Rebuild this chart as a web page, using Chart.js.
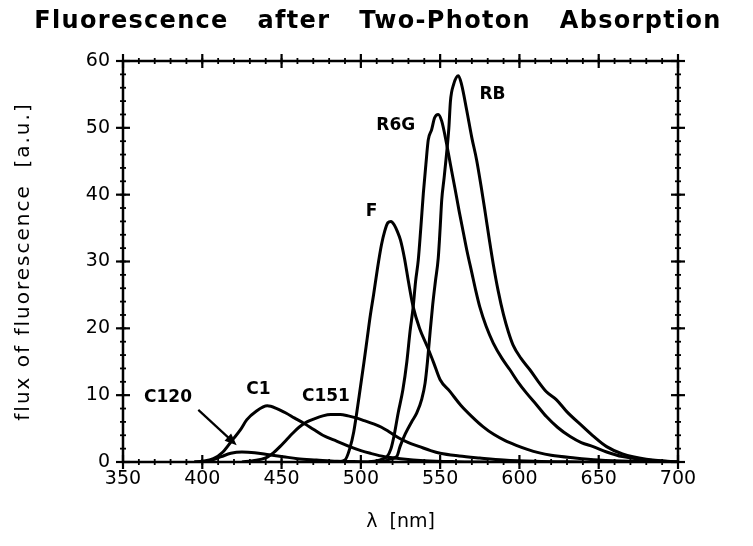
<!DOCTYPE html>
<html><head><meta charset="utf-8">
<script src="https://cdn.jsdelivr.net/npm/chart.js@4.4.0/dist/chart.umd.min.js"></script>
<style>html,body{margin:0;padding:0;background:#fff}#wrap{width:753px;height:546px;position:relative}</style>
</head><body><div id="wrap"><canvas id="c" width="753" height="546"></canvas></div>
<script>
// ---- text ----
const titleText = 'Fluorescence   after   Two-Photon   Absorption';
const xTitle = 'λ  [nm]';
const yTitle = 'flux of fluorescence  [a.u.]';

// ---- axes ----
const xMin = 350, xMax = 700, xStep = 50, xMinorStep = 10;
const yMin = 0, yMax = 60, yStep = 10, yMinorStep = 2;

// ---- series (wavelength nm, flux a.u.) ----
const c120X = [395, 405, 412, 418, 425, 433, 442, 451, 460, 472, 485, 500, 520];
const c120Y = [0, 0.2, 0.8, 1.3, 1.5, 1.4, 1.1, 0.8, 0.5, 0.3, 0.1, 0.05, 0];

const c1X = [395, 400, 407, 413, 419, 424, 428, 434, 441, 447, 453, 458, 464, 470, 476, 485, 493, 500, 506, 515, 525, 540, 560, 580];
const c1Y = [0, 0.1, 0.5, 1.5, 3.3, 4.8, 6.3, 7.6, 8.4, 8.0, 7.3, 6.6, 5.8, 4.9, 4.0, 3.1, 2.3, 1.7, 1.3, 0.8, 0.5, 0.2, 0.05, 0];

const c151X = [425, 432, 440, 445, 449, 453, 457, 461, 466, 471, 476, 481, 487, 492, 497, 502, 508, 513, 518, 524, 530, 537, 544, 550, 562, 575, 590, 610, 640];
const c151Y = [0, 0.2, 0.6, 1.4, 2.3, 3.3, 4.3, 5.2, 6.0, 6.5, 6.9, 7.1, 7.1, 6.9, 6.6, 6.2, 5.7, 5.2, 4.5, 3.6, 2.9, 2.3, 1.7, 1.3, 0.9, 0.6, 0.3, 0.1, 0];

const fX = [485, 490, 493, 495.5, 499, 502, 504, 506, 508, 510.5, 513, 515, 517, 519, 521, 523, 525, 527.5, 530, 533, 537, 542, 546, 550, 556, 563, 570, 577, 584, 591, 598, 605, 612, 620, 635, 650, 670, 700];
const fY = [0, 0.3, 2, 4.5, 10, 15, 18.5, 22, 25, 29, 32.5, 34.5, 35.8, 36, 35.5, 34.5, 33.2, 30.5, 27, 23.2, 20, 17.2, 14.8, 12.3, 10.6, 8.5, 6.8, 5.3, 4.1, 3.2, 2.5, 1.9, 1.4, 1.0, 0.6, 0.3, 0.1, 0];

const r6gX = [505, 510, 513, 516.5, 519, 521, 523.5, 526.5, 529, 531, 533, 534.5, 536.2, 537.8, 539.4, 541, 542.5, 544.6, 546.5, 548.8, 551, 554, 556.5, 559.3, 562, 564.5, 567, 570, 572.5, 575, 579, 583.5, 589, 594, 599, 604.5, 611, 617, 624, 632, 639, 646.5, 655, 665, 680, 700];
const r6gY = [0, 0.2, 0.4, 0.8, 2, 4, 7.3, 10.8, 15, 19.5, 23.2, 27, 30.2, 35, 40.2, 44.5, 48.2, 49.7, 51.5, 52, 51, 47.7, 44.5, 41, 37.5, 34.5, 31.5, 28.3, 25.6, 23.2, 20.3, 17.8, 15.5, 13.8, 12, 10.3, 8.5, 6.8, 5.2, 3.8, 2.9, 2.3, 1.5, 0.8, 0.3, 0];

const rbX = [512, 516, 519, 522.6, 524.7, 528, 532, 535.2, 538.5, 540.5, 542, 543.5, 545.3, 547, 548.8, 550, 551, 552.5, 554, 555.5, 556.5, 558.5, 561.5, 563.5, 566.7, 570, 573, 576, 578.5, 581, 583.5, 586.6, 590, 593, 596, 601, 606.6, 612, 617, 623.4, 630, 640, 647, 655, 665, 680, 700];
const rbY = [0, 0.2, 0.5, 0.8, 2.3, 4.2, 6, 7.3, 9.5, 11.8, 15, 19, 23.5, 27, 30.5, 35, 39.2, 42.5, 46, 50, 54, 56.5, 57.8, 56.5, 52.7, 48.5, 45.2, 41, 37.2, 33.3, 29.6, 25.6, 22, 19.5, 17.5, 15.5, 13.8, 12, 10.5, 9.3, 7.5, 5.3, 3.8, 2.3, 1.2, 0.4, 0];

// ---- curve labels (text anchored at data coordinates) ----
const labelNames = ['C120', 'C1', 'C151', 'F', 'R6G', 'RB'];
const labelX = [378.4, 435.4, 478, 506.8, 522, 583];
const labelY = [9.6, 10.8, 9.8, 37.5, 50.4, 55];
// arrow from C120 label to its curve
const arrowFrom = [397.5, 7.8];
const arrowTo = [421.7, 2.5];

const seriesX = [c120X, c1X, c151X, fX, r6gX, rbX];
const seriesY = [c120Y, c1Y, c151Y, fY, r6gY, rbY];

const datasets = seriesX.map((xs, i) => ({
  label: labelNames[i],
  data: xs.map((x, j) => ({x: x, y: seriesY[i][j]})),
  borderColor: '#000',
  borderWidth: 3,
  pointRadius: 0,
  fill: false,
  cubicInterpolationMode: 'monotone'
}));

const FONT = '"DejaVu Sans", sans-serif';

const decor = {
  id: 'decor',
  afterDatasetsDraw(chart) {
    const {ctx, chartArea: {left, right, top, bottom}, scales: {x, y}} = chart;
    ctx.save();
    ctx.strokeStyle = '#000';
    ctx.fillStyle = '#000';
    ctx.lineCap = 'butt';
    // frame
    ctx.lineWidth = 2.5;
    ctx.strokeRect(left, top, right - left, bottom - top);
    const seg = (x1, y1, x2, y2) => { ctx.beginPath(); ctx.moveTo(x1, y1); ctx.lineTo(x2, y2); ctx.stroke(); };
    // minor ticks
    ctx.lineWidth = 1.8;
    for (let v = xMin; v <= xMax + 1e-6; v += xMinorStep) {
      const p = x.getPixelForValue(v);
      seg(p, bottom - 3, p, bottom + 3);
      seg(p, top - 3, p, top + 3);
    }
    for (let v = yMin; v <= yMax + 1e-6; v += yMinorStep) {
      const p = y.getPixelForValue(v);
      seg(left - 3, p, left + 3, p);
      seg(right - 3, p, right + 3, p);
    }
    // major ticks
    ctx.lineWidth = 2.2;
    x.ticks.forEach(t => {
      const p = x.getPixelForValue(t.value);
      seg(p, bottom - 7, p, bottom + 7);
      seg(p, top - 7, p, top + 7);
    });
    y.ticks.forEach(t => {
      const p = y.getPixelForValue(t.value);
      seg(left - 7, p, left + 7, p);
      seg(right - 7, p, right + 7, p);
    });
    // curve labels
    ctx.font = 'bold 17px ' + FONT;
    ctx.textAlign = 'center';
    ctx.textBaseline = 'middle';
    labelNames.forEach((n, i) => {
      ctx.fillText(n, x.getPixelForValue(labelX[i]), y.getPixelForValue(labelY[i]));
    });
    // arrow
    const ax1 = x.getPixelForValue(arrowFrom[0]), ay1 = y.getPixelForValue(arrowFrom[1]);
    const ax2 = x.getPixelForValue(arrowTo[0]), ay2 = y.getPixelForValue(arrowTo[1]);
    const ang = Math.atan2(ay2 - ay1, ax2 - ax1);
    ctx.lineWidth = 2.2;
    seg(ax1, ay1, ax2 - 8 * Math.cos(ang), ay2 - 8 * Math.sin(ang));
    ctx.beginPath();
    ctx.moveTo(ax2, ay2);
    ctx.lineTo(ax2 - 13 * Math.cos(ang - 0.38), ay2 - 13 * Math.sin(ang - 0.38));
    ctx.lineTo(ax2 - 13 * Math.cos(ang + 0.38), ay2 - 13 * Math.sin(ang + 0.38));
    ctx.closePath();
    ctx.fill();
    // title
    ctx.font = 'bold 24px ' + FONT;
    try { ctx.letterSpacing = '1.3px'; } catch (e) {}
    ctx.textBaseline = 'alphabetic';
    ctx.fillText(titleText, 378, 28);
    // axis titles
    ctx.font = '19px ' + FONT;
    try { ctx.letterSpacing = '0px'; } catch (e) {}
    ctx.textBaseline = 'middle';
    ctx.fillText(xTitle, (left + right) / 2, 522);
    ctx.font = '20px ' + FONT;
    try { ctx.letterSpacing = '2px'; } catch (e) {}
    ctx.save();
    ctx.translate(24, (top + bottom) / 2);
    ctx.rotate(-Math.PI / 2);
    ctx.fillText(yTitle, 0, 0);
    ctx.restore();
    ctx.restore();
  }
};

new Chart(document.getElementById('c'), {
  type: 'line',
  data: {datasets},
  options: {
    responsive: false,
    animation: false,
    layout: {padding: {top: 61, right: 75, left: 0, bottom: 0}},
    plugins: {legend: {display: false}, tooltip: {enabled: false}, title: {display: false}},
    scales: {
      x: {
        type: 'linear', min: xMin, max: xMax,
        ticks: {stepSize: xStep, color: '#000', font: {family: FONT, size: 19}, padding: 6, maxRotation: 0},
        grid: {display: false, drawTicks: false},
        border: {display: false},
        afterFit(s) { s.height = 84; }
      },
      y: {
        type: 'linear', min: yMin, max: yMax,
        ticks: {stepSize: yStep, color: '#000', font: {family: FONT, size: 19}, padding: 13},
        grid: {display: false, drawTicks: false},
        border: {display: false},
        afterFit(s) { s.width = 123; }
      }
    }
  },
  plugins: [decor]
});
</script>
</body></html>
